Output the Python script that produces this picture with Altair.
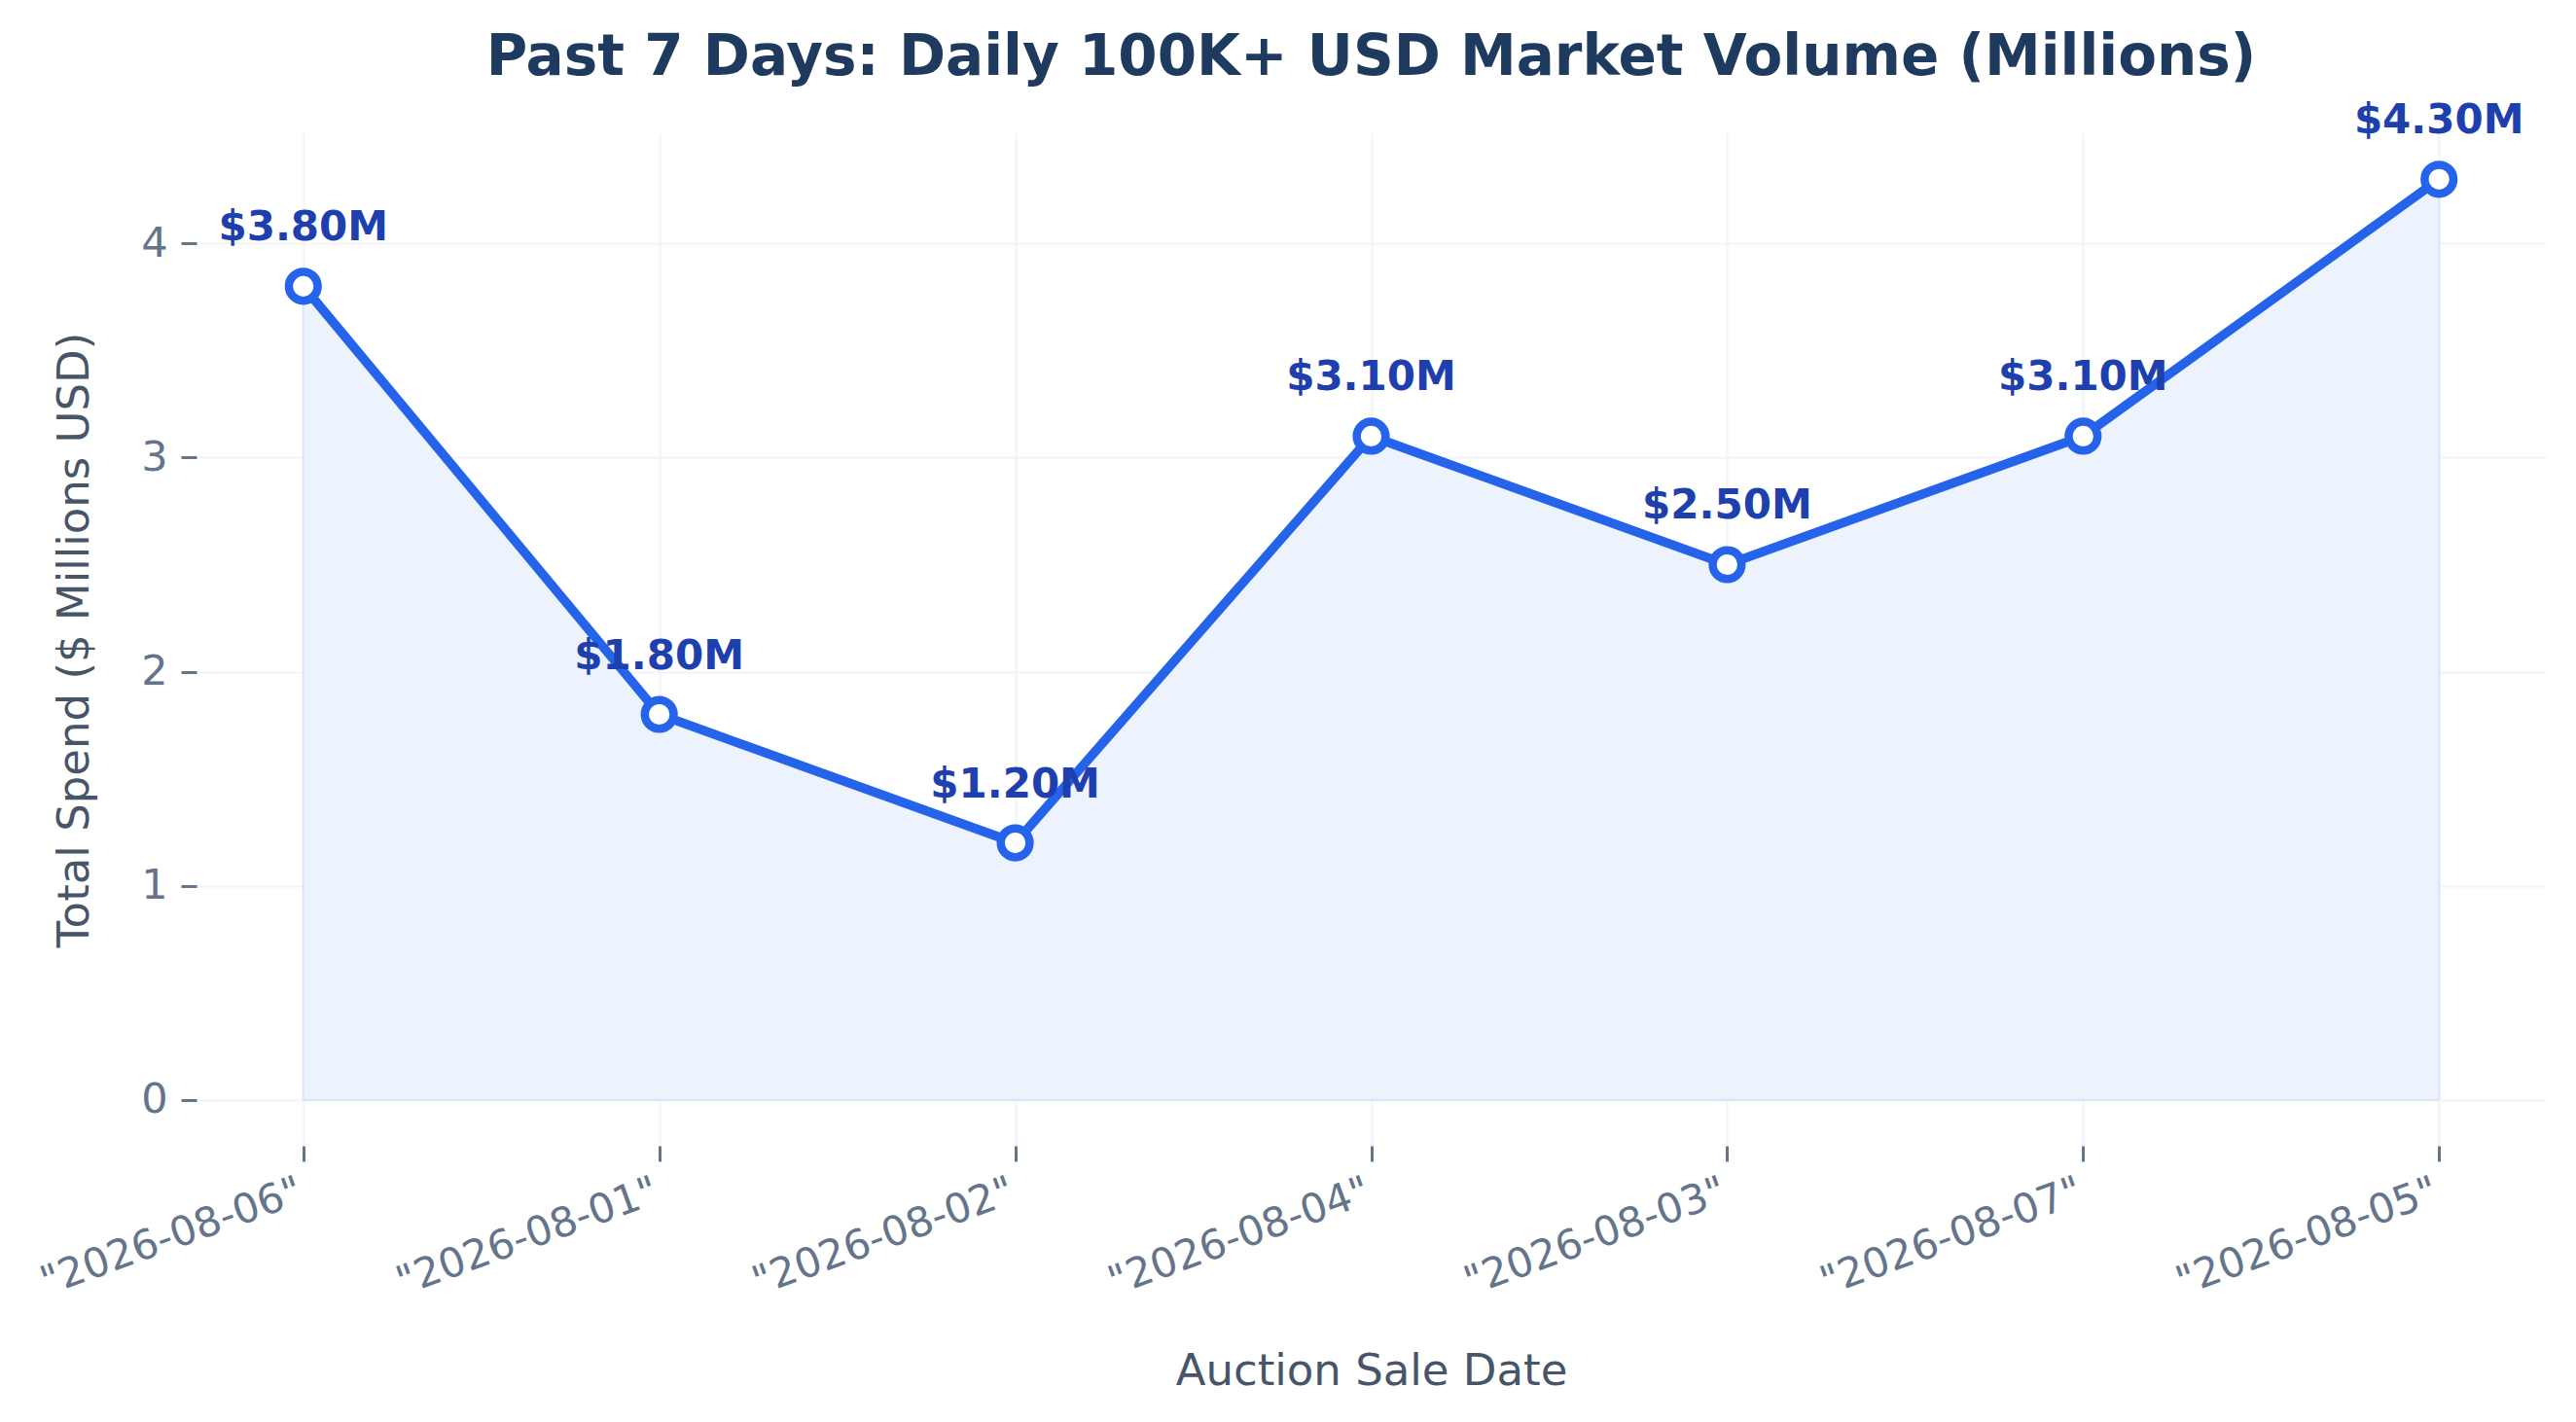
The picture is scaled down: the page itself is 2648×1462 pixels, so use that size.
import altair as alt
import pandas as pd

# data
dates = ["2026-08-06", "2026-08-01", "2026-08-02", "2026-08-04", "2026-08-03", "2026-08-07", "2026-08-05"]
spend_millions = [3.80, 1.80, 1.20, 3.10, 2.50, 3.10, 4.30]

df = pd.DataFrame({"date": dates, "spend": spend_millions})
df["date_label"] = ['"' + d + '"' for d in df["date"]]
df["label"] = ["${:.2f}M".format(v) for v in df["spend"]]

blue = "#2563eb"
W, H = 2415, 1041

x_enc = alt.X(
    "date_label:N",
    sort=None,
    scale=alt.Scale(type="point", padding=0.3),
    axis=alt.Axis(
        title="Auction Sale Date",
        labelAngle=-20,
        labelAlign="right",
        labelBaseline="top",
        labelFontSize=42,
        labelColor="#64748b",
        labelPadding=10,
        labelOffset=-10,
        labelLimit=0,
        tickColor="#64748b",
        tickSize=16,
        tickWidth=3,
        domain=False,
        grid=True,
        gridColor="#f1f4f8",
        gridWidth=2,
        titleFontSize=45,
        titleFontWeight="normal",
        titleColor="#475569",
        titleX=W / 2,
        titleY=231,
        titleBaseline="middle",
        titleAlign="center",
    ),
)

y_scale = alt.Scale(domain=[-0.215, 4.515], nice=False, zero=False)
y_enc = alt.Y(
    "spend:Q",
    scale=y_scale,
    axis=alt.Axis(
        title="Total Spend ($ Millions USD)",
        values=[0, 1, 2, 3, 4],
        format="d",
        labelFontSize=43,
        labelColor="#64748b",
        labelPadding=14,
        tickColor="#64748b",
        tickSize=16,
        tickWidth=3,
        domain=False,
        grid=True,
        gridColor="#f1f4f8",
        gridWidth=2,
        titleFontSize=45,
        titleFontWeight="normal",
        titleColor="#475569",
        titleX=-126,
        titleY=H / 2,
        titleAngle=-90,
        titleBaseline="middle",
        titleAlign="center",
    ),
)

base = alt.Chart(df)

area = base.mark_area(fill="#edf3fd", stroke="#d9e4fb", strokeWidth=2).encode(
    x=x_enc, y=y_enc, y2=alt.datum(0)
)

line = base.mark_line(color=blue, strokeWidth=9.5).encode(x=x_enc, y=y_enc)

points = base.mark_point(
    shape="circle", filled=True, fill="white", stroke=blue, strokeWidth=8.5, size=880, opacity=1
).encode(x=x_enc, y=y_enc)

labels = base.mark_text(
    font="DejaVu Sans", fontSize=42, fontWeight="bold", color="#1e40af", baseline="alphabetic", dy=-47
).encode(x=x_enc, y=y_enc, text="label:N")

chart = (
    alt.layer(area, line, points, labels)
    .properties(
        width=W,
        height=H,
        autosize=alt.AutoSizeParams(type="none"),
        padding={"left": 194, "top": 129, "right": 19, "bottom": 270},
        title=alt.TitleParams(
            "Past 7 Days: Daily 100K+ USD Market Volume (Millions)",
            fontSize=58,
            fontWeight="bold",
            color="#1e3a5f",
            font="DejaVu Sans",
            anchor="middle",
            offset=14,
        ),
    )
    .configure(font="DejaVu Sans")
    .configure_view(stroke=None)
)

chart.save("out.html", embed_options={"renderer": "svg", "actions": False})
